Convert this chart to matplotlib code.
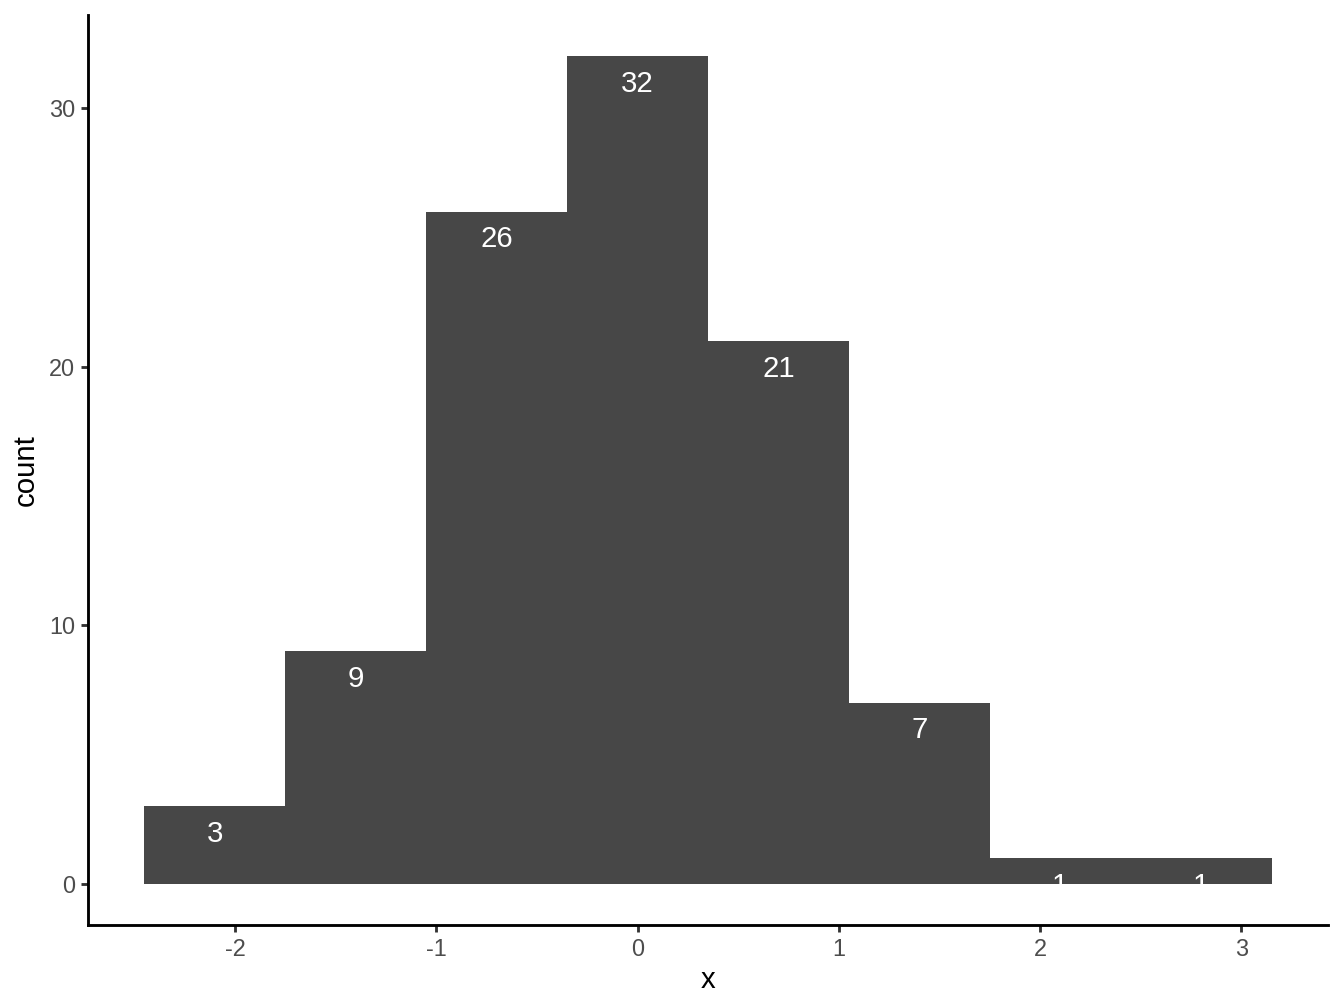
import numpy as np
import matplotlib
matplotlib.use("Agg")
import matplotlib.pyplot as plt

# histogram data
bin_edges = [-2.45, -1.75, -1.05, -0.35, 0.35, 1.05, 1.75, 2.45, 3.15]
counts = [3, 9, 26, 32, 21, 7, 1, 1]
x_ticks = [-2, -1, 0, 1, 2, 3]
y_ticks = [0, 10, 20, 30]

plt.rcParams['font.family'] = ['Liberation Sans', 'DejaVu Sans']

fig = plt.figure(figsize=(7, 5.25), dpi=192)
ax = fig.add_axes([0.0655, 0.0823, 0.9225, 0.9027])

edges = np.array(bin_edges)
widths = np.diff(edges)
centers = edges[:-1] + widths / 2
ax.bar(edges[:-1], counts, width=widths, align='edge', color='#474747', linewidth=0)

for cx, c in zip(centers, counts):
    ax.annotate(str(c), (cx, c), xytext=(0, -10.4), textcoords='offset points',
                ha='center', va='center', color='white', fontsize=11)

# ggplot-style 5% expansion
span_x = edges[-1] - edges[0]
ax.set_xlim(edges[0] - 0.05 * span_x, edges[-1] + 0.05 * span_x)
span_y = max(counts)
ax.set_ylim(-0.05 * span_y, span_y * 1.05)

ax.set_xticks(x_ticks)
ax.set_xticklabels([str(t) for t in x_ticks])
ax.set_yticks(y_ticks)
ax.set_yticklabels([str(t) for t in y_ticks])

for side in ['top', 'right']:
    ax.spines[side].set_visible(False)
for side in ['left', 'bottom']:
    ax.spines[side].set_linewidth(1.07)
    ax.spines[side].set_color('black')

ax.tick_params(axis='both', length=2.75, width=1.07, color='#333333',
               labelsize=8.8, labelcolor='#4D4D4D', pad=2.2)

ax.set_xlabel('x', fontsize=11, labelpad=1.8)
ax.set_ylabel('count', fontsize=11, labelpad=3.5)

fig.savefig('out.png', dpi=192, facecolor='white')
